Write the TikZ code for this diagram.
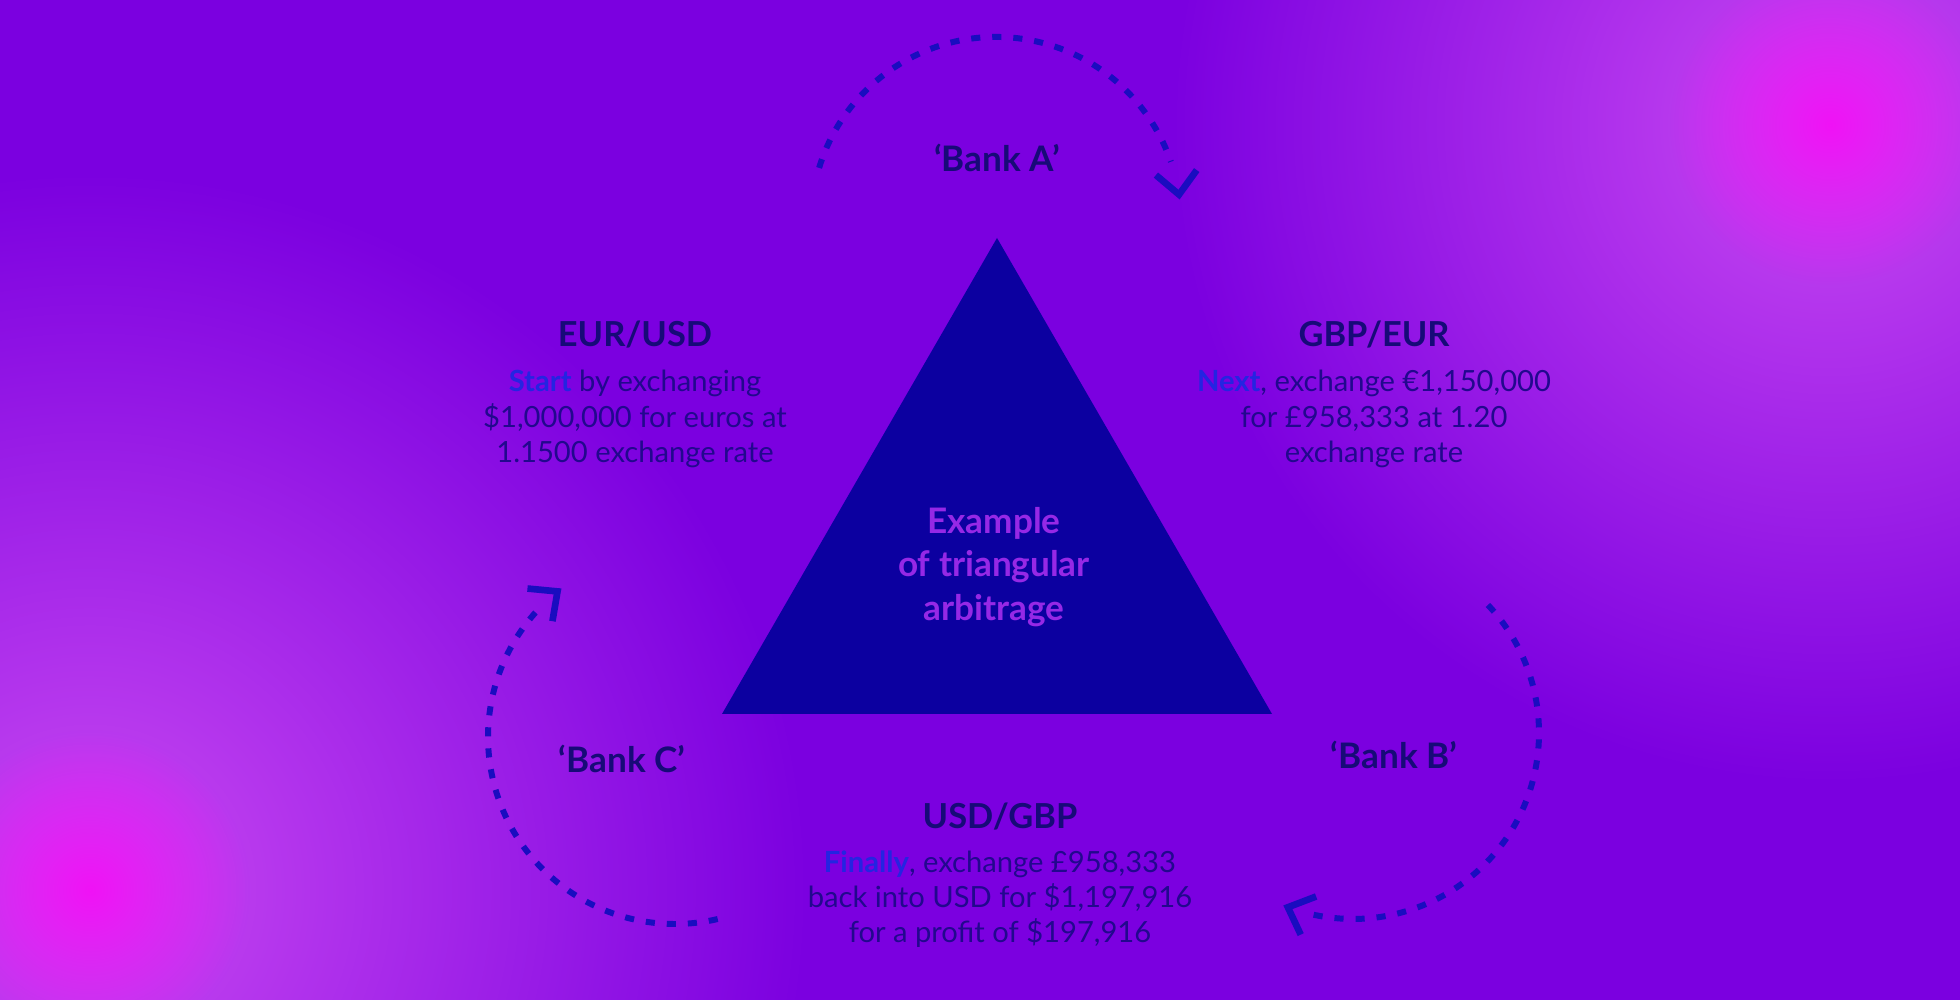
\documentclass[tikz,border=0pt]{standalone}
\usepackage{fontspec}
\setmainfont{Lato}
\usetikzlibrary{arrows.meta, fadings}
\definecolor{deep-purple}{HTML}{7B00E0}
\definecolor{glow-violet}{HTML}{CA4AF2}
\definecolor{glow-pink}{HTML}{F012F6}
\definecolor{tri-blue}{HTML}{0C00A0}
\definecolor{ink-navy}{HTML}{170A78}
\definecolor{ink-body}{HTML}{22088E}
\definecolor{accent-blue}{HTML}{2424E2}
\definecolor{title-purple}{HTML}{9628E6}
\definecolor{dash-blue}{HTML}{1A0CC0}

\tikzfading[name=soft glow, inner color=transparent!0, outer color=transparent!100]

\begin{document}
\begin{tikzpicture}[
    heading/.style={font=\fontsize{9.8}{11}\selectfont\bfseries, text=ink-navy},
    bank/.style={font=\fontsize{10}{11}\selectfont\bfseries, text=ink-navy},
    blurb/.style={font=\fontsize{8.3}{10}\selectfont, text=ink-body, align=center},
    flow/.style={draw=dash-blue, line width=1.7pt, dash pattern=on 2.6pt off 3.4pt},
    flowtip/.style={draw=dash-blue, line width=1.9pt, dash pattern=on 0pt off 20pt,
      -{Straight Barb[length=6.3pt, width=11.7pt]}}]
  % backdrop
  \useasboundingbox (0,0) rectangle (19.6,10);
  \begin{scope}
    \clip (0,0) rectangle (19.6,10);
    \fill[deep-purple] (0,0) rectangle (19.6,10);
    \fill[glow-violet, path fading=soft glow] (0.9,1.1) circle (7.2);
    \fill[glow-violet, path fading=soft glow] (18.3,8.75) circle (6.6);
    \fill[glow-pink, path fading=soft glow] (0.9,1.1) circle (1.6);
    \fill[glow-pink, path fading=soft glow] (18.3,8.75) circle (1.6);
  \end{scope}

  % triangle in the middle
  \fill[tri-blue] (7.22,2.86) -- (9.97,7.62) -- (12.72,2.86) -- cycle;
  \node[font=\fontsize{10}{12.3}\selectfont\bfseries, text=title-purple, align=center]
    (title) at (9.94,4.33) {Example\\of triangular\\arbitrage};

  % the three pairs
  \node[heading] (eurusd) at (6.35,6.65) {EUR/USD};
  \node[blurb] (eurusd text) at (6.35,5.81)
    {\textcolor{accent-blue}{\bfseries Start} by exchanging\\\$1,000,000 for euros at\\1.1500 exchange rate};
  \node[heading] (gbpeur) at (13.74,6.65) {GBP/EUR};
  \node[blurb] (gbpeur text) at (13.74,5.81)
    {\textcolor{accent-blue}{\bfseries Next}, exchange €1,150,000\\for £958,333 at 1.20\\exchange rate};
  \node[heading] (usdgbp) at (10.0,1.83) {USD/GBP};
  \node[blurb] (usdgbp text) at (10.0,1.01)
    {\textcolor{accent-blue}{\bfseries Finally}, exchange £958,333\\back into USD for \$1,197,916\\for a profit of \$197,916};

  % banks and the flows round them
  \node[bank] (bankA) at (9.97,8.42) {‘Bank A’};
  \node[bank] (bankB) at (13.94,2.45) {‘Bank B’};
  \node[bank] (bankC) at (6.22,2.41) {‘Bank C’};

  \coordinate (hubA) at (9.96,7.78);
  \coordinate (hubB) at (13.53,2.67);
  \coordinate (hubC) at (6.75,2.63);

  \draw[flow] ([shift={(163:1.85)}]hubA) arc[start angle=163, end angle=19, radius=1.85];
  \draw[flowtip] ([shift={(19:1.85)}]hubA) arc[start angle=19, end angle=7, radius=1.85];
  \draw[flow] ([shift={(43.5:1.86)}]hubB) arc[start angle=43.5, end angle=-103.4, radius=1.86];
  \draw[flowtip] ([shift={(-103.4:1.86)}]hubB) arc[start angle=-103.4, end angle=-112, radius=1.86];
  \draw[flow] ([shift={(-76.8:1.87)}]hubC) arc[start angle=-76.8, end angle=-222.8, radius=1.87];
  \draw[flowtip] ([shift={(-222.8:1.87)}]hubC) arc[start angle=-222.8, end angle=-232.6, radius=1.87];
\end{tikzpicture}
\end{document}
